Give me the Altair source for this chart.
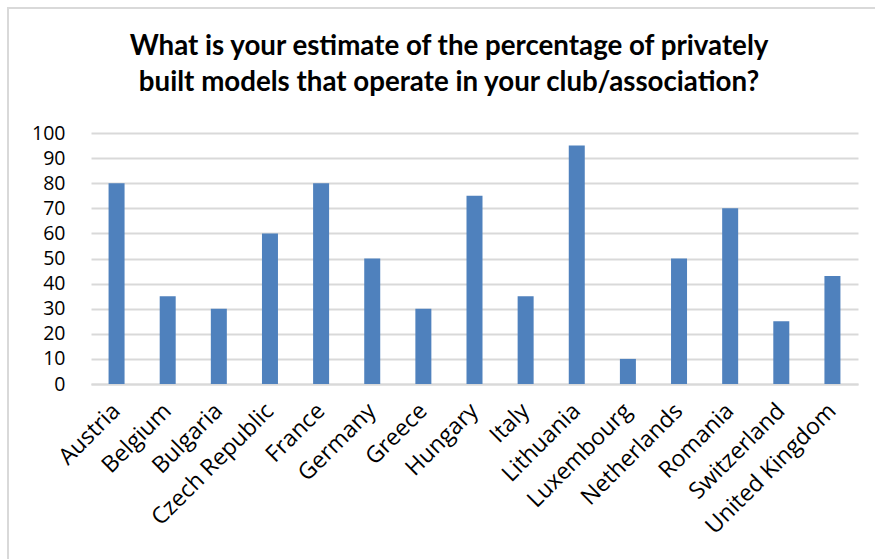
import altair as alt
import pandas as pd

countries = ["Austria", "Belgium", "Bulgaria", "Czech Republic", "France", "Germany",
             "Greece", "Hungary", "Italy", "Lithuania", "Luxembourg", "Netherlands",
             "Romania", "Switzerland", "United Kingdom"]
values = [80, 35, 30, 60, 80, 50, 30, 75, 35, 95, 10, 50, 70, 25, 43]
y_ticks = list(range(0, 101, 10))
title_lines = ["What is your estimate of the percentage of privately",
               "built models that operate in your club/association?"]

df = pd.DataFrame({"country": countries, "value": values})

bars = alt.Chart(df).mark_bar(color="#4F81BD", size=16).encode(
    x=alt.X("country:N", sort=countries, title=None,
            scale=alt.Scale(paddingInner=0.69, paddingOuter=0.345),
            axis=alt.Axis(labelAngle=-45, labelAlign="right", labelBaseline="middle",
                          labelFontSize=23, labelFont="Open Sans", labelColor="#000000",
                          ticks=False, domain=True, domainColor="#d9d9d9", domainWidth=2,
                          labelPadding=23, grid=False, labelOverlap=False)),
    y=alt.Y("value:Q", title=None,
            scale=alt.Scale(domain=[0, 100], nice=False),
            axis=alt.Axis(values=y_ticks, labelFontSize=19.5, labelFont="Open Sans",
                          labelColor="#000000", ticks=False, domain=False,
                          gridColor="#d9d9d9", gridWidth=2, labelPadding=26,
                          labelOverlap=False)),
)

frame = alt.Chart(pd.DataFrame({"a": [0]})).mark_rect(
    fill="transparent", stroke="#d9d9d9", strokeWidth=2
).encode(
    x=alt.value(-83), x2=alt.value(900), y=alt.value(-125), y2=alt.value(600)
)

title_df = pd.DataFrame({"line": title_lines, "y": [-86, -50]})
title = alt.Chart(title_df).mark_text(
    fontSize=27.7, font="Lato", fontWeight="bold", color="#000000",
    align="center", baseline="middle"
).encode(
    text="line:N", x=alt.value(358), y=alt.Y("y:Q", scale=None)
)

chart = alt.layer(frame, bars, title).properties(
    width=767, height=251,
    padding={"left": 91, "top": 133, "right": 17, "bottom": 175},
    autosize=alt.AutoSizeParams(type="none"),
).configure_view(stroke=None)

chart.save("out.html", embed_options={"renderer": "svg", "actions": False})
